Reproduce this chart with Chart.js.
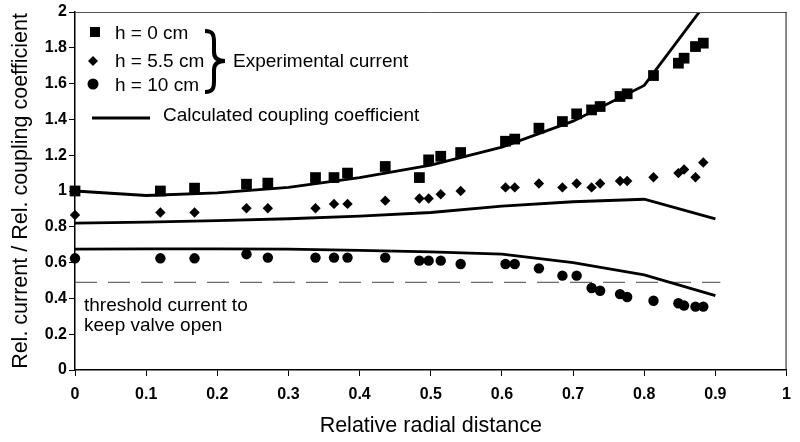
<!DOCTYPE html>
<html lang="en">
<head>
  <meta charset="UTF-8">
  <title>Relative current and coupling coefficient vs radial distance</title>
  <script src="https://cdn.jsdelivr.net/npm/chart.js"></script>
  <style>
    html, body {
      margin: 0;
      padding: 0;
      background: #fff;
    }
    .wrap {
      width: 800px;
      height: 442px;
    }
  </style>
</head>
<body>
  <div class="wrap">
    <canvas id="chart" width="800" height="442"></canvas>
  </div>

  <script>
    // Measured points (relative radial distance)
    const xExp = [0, 0.12, 0.168, 0.241, 0.271, 0.338, 0.364, 0.383, 0.436, 0.484, 0.497, 0.514, 0.542,
      0.605, 0.618, 0.652, 0.685, 0.705, 0.726, 0.738, 0.766, 0.776, 0.813, 0.848, 0.856, 0.872, 0.883];
    const currentH0 = [1.0, 1.0, 1.016, 1.038, 1.044, 1.075, 1.075, 1.1, 1.137, 1.075, 1.174, 1.194, 1.215,
      1.278, 1.29, 1.351, 1.388, 1.431, 1.453, 1.472, 1.528, 1.543, 1.645, 1.714, 1.742, 1.807, 1.826];
    const currentH55 = [0.866, 0.88, 0.88, 0.904, 0.904, 0.904, 0.928, 0.928, 0.946, 0.958, 0.958, 0.982, 1.0,
      1.02, 1.02, 1.042, 1.02, 1.042, 1.02, 1.042, 1.056, 1.056, 1.077, 1.1, 1.12, 1.077, 1.159];
    const currentH10 = [0.624, 0.624, 0.624, 0.647, 0.628, 0.628, 0.628, 0.628, 0.628, 0.611, 0.611, 0.611, 0.592,
      0.592, 0.592, 0.568, 0.527, 0.527, 0.458, 0.443, 0.424, 0.408, 0.387, 0.373, 0.36, 0.354, 0.354];

    // Calculated coupling coefficient curves
    const xCalc = [0, 0.1, 0.2, 0.3, 0.4, 0.5, 0.6, 0.7, 0.8, 0.9];
    const couplingH0 = [1.0, 0.975, 0.99, 1.02, 1.075, 1.145, 1.245, 1.39, 1.59, 2.12];
    const couplingH55 = [0.82, 0.826, 0.834, 0.845, 0.86, 0.88, 0.915, 0.94, 0.954, 0.844];
    const couplingH10 = [0.675, 0.677, 0.677, 0.675, 0.668, 0.66, 0.647, 0.6, 0.531, 0.415];

    // Threshold current (dashed line)
    const thresholdX = [0, 0.907];
    const thresholdY = 0.49;

    const seriesLabels = ['h = 0 cm', 'h = 5.5 cm', 'h = 10 cm'];
    const legendGroupLabel = 'Experimental current';
    const lineLabel = 'Calculated coupling coefficient';
    const thresholdText = ['threshold current to', 'keep valve open'];

    const toPoints = (xs, ys) => xs.map((x, i) => ({ x: x, y: ys[i] }));

    const scatterSet = (label, ys, style, radius) => ({
      type: 'scatter',
      label: label,
      data: toPoints(xExp, ys),
      pointStyle: style,
      pointRadius: radius,
      pointHoverRadius: radius,
      backgroundColor: '#000',
      borderColor: '#000',
      borderWidth: 0,
      clip: false
    });

    const lineSet = (ys) => ({
      type: 'line',
      label: lineLabel,
      data: toPoints(xCalc, ys),
      borderColor: '#000',
      borderWidth: 2.8,
      pointRadius: 0,
      tension: 0,
      fill: false
    });

    // Draws the frame, the hand-made legend with brace and the threshold note
    const decorPlugin = {
      id: 'decor',
      afterDraw(chart) {
        const ctx = chart.ctx;
        const a = chart.chartArea;
        ctx.save();

        // top and right frame
        ctx.strokeStyle = '#555';
        ctx.lineWidth = 1;
        ctx.beginPath();
        ctx.moveTo(a.left, a.top + 0.5);
        ctx.lineTo(a.right, a.top + 0.5);
        ctx.stroke();
        ctx.strokeStyle = '#111';
        ctx.beginPath();
        ctx.moveTo(a.right - 0.5, a.top);
        ctx.lineTo(a.right - 0.5, a.bottom);
        ctx.stroke();

        ctx.fillStyle = '#000';
        ctx.font = '19px "Liberation Sans", Arial, sans-serif';
        ctx.textBaseline = 'middle';
        ctx.textAlign = 'left';

        // legend markers
        ctx.fillRect(90, 27, 10, 10);
        ctx.beginPath();
        ctx.moveTo(93, 56);
        ctx.lineTo(98, 61);
        ctx.lineTo(93, 66);
        ctx.lineTo(88, 61);
        ctx.closePath();
        ctx.fill();
        ctx.beginPath();
        ctx.arc(93, 84, 5.5, 0, Math.PI * 2);
        ctx.fill();

        ctx.fillText(seriesLabels[0], 115, 34);
        ctx.fillText(seriesLabels[1], 115, 62);
        ctx.fillText(seriesLabels[2], 115, 86);

        // curly brace
        ctx.lineWidth = 4;
        ctx.strokeStyle = '#000';
        ctx.beginPath();
        ctx.moveTo(205, 31);
        ctx.bezierCurveTo(213, 31, 214, 35, 214, 42);
        ctx.lineTo(214, 52);
        ctx.bezierCurveTo(214, 58, 218, 61, 225, 61);
        ctx.bezierCurveTo(218, 61, 214, 64, 214, 70);
        ctx.lineTo(214, 81);
        ctx.bezierCurveTo(214, 88, 213, 92, 205, 92);
        ctx.stroke();

        ctx.fillText(legendGroupLabel, 233, 62);

        // line legend
        ctx.lineWidth = 2.8;
        ctx.beginPath();
        ctx.moveTo(92, 118);
        ctx.lineTo(150, 118);
        ctx.stroke();
        ctx.fillText(lineLabel, 163, 116);

        // threshold note
        ctx.fillText(thresholdText[0], 84, 306);
        ctx.fillText(thresholdText[1], 84, 326);

        ctx.restore();
      }
    };

    const tickFont = { family: '"Liberation Sans", Arial, sans-serif', size: 16, weight: 'bold' };
    const titleFont = { family: '"Liberation Sans", Arial, sans-serif', size: 21.5, lineHeight: 1.2 };

    new Chart(document.getElementById('chart'), {
      data: {
        datasets: [
          scatterSet(seriesLabels[0], currentH0, 'rect', 7.6),
          scatterSet(seriesLabels[1], currentH55, 'rectRot', 5.2),
          scatterSet(seriesLabels[2], currentH10, 'circle', 5.2),
          lineSet(couplingH0),
          lineSet(couplingH55),
          lineSet(couplingH10),
          {
            type: 'line',
            label: 'threshold',
            data: thresholdX.map(x => ({ x: x, y: thresholdY })),
            borderColor: '#444',
            borderWidth: 1,
            borderDash: [22, 11],
            pointRadius: 0,
            fill: false
          }
        ]
      },
      options: {
        responsive: false,
        animation: false,
        events: [],
        layout: { padding: { left: 0, top: 12, right: 12, bottom: 0 } },
        plugins: {
          legend: { display: false },
          tooltip: { enabled: false }
        },
        scales: {
          x: {
            type: 'linear',
            min: 0,
            max: 1,
            afterFit(scale) { scale.height = 72; },
            ticks: {
              stepSize: 0.1,
              color: '#000',
              font: tickFont,
              padding: 9,
              maxRotation: 0,
              callback: v => String(Number(v.toFixed(1)))
            },
            grid: { drawOnChartArea: false, drawTicks: true, tickLength: 6, color: '#000' },
            border: { display: true, color: '#000', width: 1.5 },
            title: {
              display: true,
              text: 'Relative radial distance',
              color: '#000',
              font: titleFont,
              padding: { top: 0, bottom: 3 }
            }
          },
          y: {
            type: 'linear',
            min: 0,
            max: 2,
            afterFit(scale) { scale.width = 75; },
            ticks: {
              stepSize: 0.2,
              color: '#000',
              font: tickFont,
              padding: 2,
              callback: v => String(Number(v.toFixed(1)))
            },
            grid: { drawOnChartArea: false, drawTicks: true, tickLength: 6, color: '#000' },
            border: { display: true, color: '#000', width: 1.5 },
            title: {
              display: true,
              text: 'Rel. current / Rel. coupling coefficient',
              color: '#000',
              font: titleFont,
              padding: { top: 8, bottom: 0 }
            }
          }
        }
      },
      plugins: [decorPlugin]
    });
  </script>
</body>
</html>
